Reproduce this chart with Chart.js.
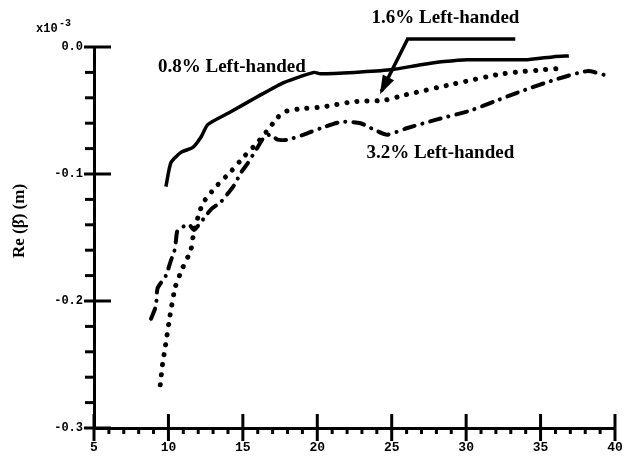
<!DOCTYPE html>
<html>
<head>
<meta charset="utf-8">
<script src="https://cdn.jsdelivr.net/npm/chart.js@4"></script>
<style>
  html, body { margin: 0; padding: 0; background: #fff; overflow: hidden; }
  canvas { display: block; }
</style>
</head>
<body>
<canvas id="betaChart" width="626" height="460"></canvas>
<script>
// values, y in units of 1e-3
const solidX = [9.83, 10.17, 10.84, 11.64, 12.18, 12.65, 14.19, 16.0, 17.75, 19.77, 20.2, 22.5, 24.9, 26.95, 28.5, 30.07, 34.1, 35.9, 36.9];
const solidY = [-0.110, -0.091, -0.083, -0.079, -0.071, -0.061, -0.051, -0.039, -0.028, -0.020, -0.021, -0.020, -0.018, -0.014, -0.0115, -0.010, -0.010, -0.0076, -0.007];

const dotX = [9.45, 9.6, 9.79, 10.1, 10.46, 10.95, 11.5, 11.73, 12.07, 12.3, 12.73, 13.19, 14.2, 15.1, 16.0, 16.77, 17.3, 17.77, 18.67, 20.46, 22.47, 24.48, 25.8, 29.2, 32.5, 36.1];
const dotY = [-0.266, -0.250, -0.236, -0.212, -0.189, -0.174, -0.160, -0.144, -0.131, -0.123, -0.1165, -0.110, -0.098, -0.086, -0.075, -0.064, -0.056, -0.051, -0.049, -0.047, -0.043, -0.042, -0.038, -0.029, -0.021, -0.017];

const dashX = [8.83, 9.16, 9.27, 9.83, 10.17, 10.39, 10.5, 10.6, 11.06, 11.4, 11.73, 12.85, 13.52, 14.4, 14.87, 15.3, 15.99, 16.43, 16.88, 17.33, 18.0, 19.1, 20.23, 21.6, 22.9, 23.8, 24.7, 26.0, 28.06, 30.3, 31.87, 33.66, 35.9, 38.13, 39.3];
const dashY = [-0.214, -0.204, -0.190, -0.180, -0.168, -0.161, -0.153, -0.145, -0.141, -0.140, -0.144, -0.128, -0.122, -0.109, -0.099, -0.092, -0.079, -0.071, -0.069, -0.073, -0.073, -0.069, -0.064, -0.059, -0.060, -0.065, -0.069, -0.064, -0.057, -0.050, -0.043, -0.035, -0.026, -0.019, -0.022];

// leader line for the 1.6% label
const arrowX = [33.3, 26.07, 24.3];
const arrowY = [0.0063, 0.0063, -0.035];

const seriesNames = ["0.8% Left-handed", "1.6% Left-handed", "3.2% Left-handed"];
const xTicks = [5, 10, 15, 20, 25, 30, 35, 40];
const yTicks = [0.0, -0.1, -0.2, -0.3];

const pts = (xs, ys) => xs.map((x, i) => ({ x: x, y: ys[i] }));

const ink = "#000";
const serif = "'Liberation Serif', 'DejaVu Serif', serif";
const mono = "'Liberation Mono', 'DejaVu Sans Mono', monospace";

// hand-drawn looking axis ticks, text labels and arrow head
const decorations = {
  id: "decorations",
  afterDraw(chart) {
    const ctx = chart.ctx;
    const xs = chart.scales.x, ys = chart.scales.y;
    const area = chart.chartArea;
    ctx.save();
    ctx.strokeStyle = ink;
    ctx.fillStyle = ink;
    ctx.lineCap = "butt";

    // x ticks: every unit, long crossing mark every 5
    xs.ticks.forEach((t) => {
      const px = xs.getPixelForValue(t.value);
      const major = xTicks.includes(Math.round(t.value * 100) / 100);
      ctx.lineWidth = 3;
      ctx.beginPath();
      if (major) {
        ctx.moveTo(px, area.bottom - 14);
        ctx.lineTo(px, area.bottom + 13);
      } else {
        ctx.moveTo(px, area.bottom);
        ctx.lineTo(px, area.bottom + 6);
      }
      ctx.stroke();
    });

    // y ticks: every 0.02, long crossing mark every 0.1
    ys.ticks.forEach((t) => {
      const py = ys.getPixelForValue(t.value);
      const major = Math.round(t.value * 50) % 5 === 0;
      ctx.lineWidth = 3;
      ctx.beginPath();
      if (major) {
        ctx.moveTo(area.left - 10, py);
        ctx.lineTo(area.left + 17, py);
      } else {
        ctx.moveTo(area.left - 9, py);
        ctx.lineTo(area.left, py);
      }
      ctx.stroke();
    });

    // arrow head at the end of the leader
    const n = arrowX.length;
    const ex = xs.getPixelForValue(arrowX[n - 1]), ey = ys.getPixelForValue(arrowY[n - 1]);
    const sx = xs.getPixelForValue(arrowX[n - 2]), sy = ys.getPixelForValue(arrowY[n - 2]);
    const ang = Math.atan2(ey - sy, ex - sx);
    const len = 17, half = 0.38;
    ctx.beginPath();
    ctx.moveTo(ex + 3 * Math.cos(ang), ey + 3 * Math.sin(ang));
    ctx.lineTo(ex - len * Math.cos(ang - half), ey - len * Math.sin(ang - half));
    ctx.lineTo(ex - len * Math.cos(ang + half), ey - len * Math.sin(ang + half));
    ctx.closePath();
    ctx.fill();

    // series labels
    ctx.font = "bold 19px " + serif;
    ctx.textBaseline = "middle";
    ctx.textAlign = "left";
    ctx.fillText(seriesNames[0], xs.getPixelForValue(9.3), ys.getPixelForValue(-0.0157));
    ctx.fillText(seriesNames[1], xs.getPixelForValue(23.65), ys.getPixelForValue(0.0228));
    ctx.fillText(seriesNames[2], xs.getPixelForValue(23.3), ys.getPixelForValue(-0.0835));

    // axis multiplier
    ctx.font = "bold 12px " + mono;
    ctx.textAlign = "left";
    ctx.fillText("x10", area.left - 58, area.top - 18);
    ctx.font = "bold 10px " + mono;
    ctx.fillText("-3", area.left - 35, area.top - 24);

    // y axis title
    ctx.translate(20, ys.getPixelForValue(-0.137));
    ctx.rotate(-Math.PI / 2);
    ctx.font = "bold 17px " + serif;
    ctx.textAlign = "center";
    ctx.fillText("Re (\u03B2\u0302) (m)", 0, 0);
    ctx.restore();
  }
};

new Chart("betaChart", {
  type: "scatter",
  data: {
    datasets: [
      {
        label: seriesNames[0],
        data: pts(solidX, solidY),
        showLine: true,
        borderColor: ink,
        borderWidth: 3.5,
        tension: 0.2,
        pointRadius: 0,
      },
      {
        label: seriesNames[1],
        data: pts(dotX, dotY),
        showLine: true,
        borderColor: ink,
        borderWidth: 5,
        borderCapStyle: "round",
        borderDash: [0.1, 10],
        tension: 0.2,
        pointRadius: 0,
      },
      {
        label: seriesNames[2],
        data: pts(dashX, dashY),
        showLine: true,
        borderColor: ink,
        borderWidth: 4,
        borderCapStyle: "round",
        borderDash: [11, 8, 0.1, 8],
        tension: 0.2,
        pointRadius: 0,
      },
      {
        label: "leader",
        data: pts(arrowX, arrowY),
        showLine: true,
        borderColor: ink,
        borderWidth: 3.5,
        pointRadius: 0,
        clip: false,
      },
    ],
  },
  options: {
    responsive: false,
    animation: false,
    layout: { padding: { left: 0, top: 47, right: 11, bottom: 0 } },
    plugins: {
      legend: { display: false },
      tooltip: { enabled: false },
      title: { display: false },
    },
    scales: {
      x: {
        type: "linear",
        min: 5,
        max: 40,
        afterFit: (s) => { s.height = 32; s.paddingLeft = 0; s.paddingRight = 0; },
        grid: { drawOnChartArea: false, drawTicks: false },
        border: { display: true, color: ink, width: 3 },
        ticks: {
          stepSize: 1,
          autoSkip: false,
          maxRotation: 0,
          padding: 12,
          color: ink,
          font: { family: mono, size: 13, weight: "bold" },
          callback: (v) => (xTicks.includes(Math.round(v * 100) / 100) ? String(Math.round(v)) : ""),
        },
      },
      y: {
        type: "linear",
        min: -0.3,
        max: 0,
        afterFit: (s) => { s.width = 94; },
        grid: { drawOnChartArea: false, drawTicks: false },
        border: { display: true, color: ink, width: 3 },
        ticks: {
          stepSize: 0.02,
          autoSkip: false,
          padding: 11,
          color: ink,
          font: { family: mono, size: 12, weight: "bold" },
          callback: (v) => (Math.round(v * 50) % 5 === 0 ? (Math.round(v * 10) / 10).toFixed(1).replace("-0.0", "0.0") : ""),
        },
      },
    },
  },
  plugins: [decorations],
});
</script>
</body>
</html>
